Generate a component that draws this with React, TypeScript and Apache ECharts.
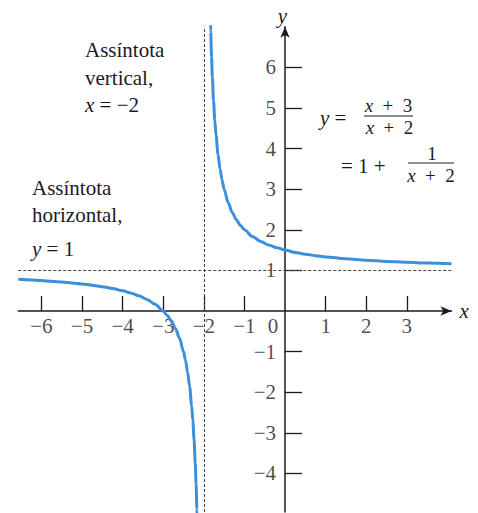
import { useEffect, useRef } from "react";
import * as echarts from "echarts";

// Axis extents and tick positions
const xRange = [-6.57, 4.1];
const yRange = [-4.95, 7];
const xTickValues = [-6, -5, -4, -3, -2, -1, 1, 2, 3];
const xLabelValues = [-6, -5, -4, -3, -2, -1, 0, 1, 2, 3];
const yTickValues = [-4, -3, -2, -1, 1, 2, 3, 4, 5, 6];

// Asymptotes of y = (x + 3)/(x + 2)
const horizontalAsymptote = 1;
const verticalAsymptote = -2;

// Right branch (x > -2)
const rightX = [-1.84, -1.83, -1.81, -1.79, -1.76, -1.73, -1.7, -1.65, -1.6, -1.55, -1.5, -1.4, -1.3, -1.2, -1.1, -1.0, -0.8, -0.6, -0.4, -0.2, 0, 0.25, 0.5, 0.75, 1, 1.5, 2, 2.5, 3, 3.5, 4.1];
const rightY = [7.25, 6.882, 6.263, 5.762, 5.167, 4.704, 4.333, 3.857, 3.5, 3.222, 3.0, 2.667, 2.429, 2.25, 2.111, 2.0, 1.833, 1.714, 1.625, 1.556, 1.5, 1.444, 1.4, 1.364, 1.333, 1.286, 1.25, 1.222, 1.2, 1.182, 1.164];

// Left branch (x < -2)
const leftX = [-6.57, -6.25, -6, -5.75, -5.5, -5.25, -5, -4.75, -4.5, -4.25, -4, -3.8, -3.6, -3.4, -3.2, -3, -2.9, -2.8, -2.7, -2.6, -2.5, -2.45, -2.4, -2.35, -2.3, -2.27, -2.24, -2.21, -2.19, -2.17, -2.16];
const leftY = [0.781, 0.765, 0.75, 0.733, 0.714, 0.692, 0.667, 0.636, 0.6, 0.556, 0.5, 0.444, 0.375, 0.286, 0.167, 0, -0.111, -0.25, -0.429, -0.667, -1.0, -1.222, -1.5, -1.857, -2.333, -2.704, -3.167, -3.762, -4.263, -4.882, -5.25];

const SERIF = '"Liberation Serif", "DejaVu Serif", serif';
const INK = "#1c1a1e";
const CURVE = "#3b8fdb";

const minus = (v: number) => (v < 0 ? "\u2212" + Math.abs(v) : String(v));

export default function App() {
  const ref = useRef<HTMLDivElement>(null);

  useEffect(() => {
    if (!ref.current) return;
    const chart = echarts.init(ref.current, undefined, { renderer: "svg" });

    const txt = (x: number, y: number, text: string, size = 21, extra: any = {}) => ({
      type: "text",
      x,
      y,
      silent: true,
      style: {
        text,
        fill: INK,
        fontFamily: SERIF,
        fontSize: size,
        textVerticalAlign: "middle",
        rich: {
          i: { fontStyle: "italic", fontFamily: SERIF, fontSize: size, fill: INK },
          n: { fontFamily: SERIF, fontSize: size, fill: INK },
        },
        ...extra,
      },
    });
    const bar = (x1: number, x2: number, y: number) => ({
      type: "line",
      silent: true,
      shape: { x1, y1: y, x2, y2: y },
      style: { stroke: INK, lineWidth: 1.2 },
    });

    const axisLineStyle = { color: INK, width: 1.5 };
    const labelFont = { fontFamily: SERIF, fontSize: 21, color: INK };
    const curveBase = {
      type: "line",
      showSymbol: false,
      smooth: 0.3,
      smoothMonotone: "x",
      clip: true,
      silent: true,
      lineStyle: { color: CURVE, width: 3 },
    };
    const sp = "\u2002";

    chart.setOption({
      animation: false,
      backgroundColor: "#ffffff",
      grid: {
        left: 18.26,
        right: 26.5,
        top: 26.8,
        bottom: 1,
        containLabel: false,
        outerBoundsMode: "none",
      },
      xAxis: {
        type: "value",
        min: xRange[0],
        max: xRange[1],
        name: "x",
        nameLocation: "end",
        nameGap: 8,
        nameTextStyle: { ...labelFont, fontStyle: "italic", verticalAlign: "middle" },
        axisLine: {
          onZero: true,
          symbol: ["none", "arrow"],
          symbolSize: [7, 11],
          lineStyle: axisLineStyle,
        },
        axisTick: { show: true, inside: true, length: 15, customValues: xTickValues, lineStyle: { color: INK, width: 1.3 } },
        axisLabel: { show: false },
        splitLine: { show: false },
      },
      yAxis: {
        type: "value",
        min: yRange[0],
        max: yRange[1],
        name: "y",
        nameLocation: "end",
        nameGap: 2,
        nameTextStyle: { ...labelFont, fontStyle: "italic", lineHeight: 18, padding: [0, 5, 0, 0] },
        axisLine: {
          onZero: true,
          symbol: ["none", "arrow"],
          symbolSize: [7, 11],
          lineStyle: axisLineStyle,
        },
        axisTick: { show: true, inside: true, length: 17, customValues: yTickValues, lineStyle: { color: INK, width: 1.3 } },
        axisLabel: { show: false },
        splitLine: { show: false },
      },
      series: [
        {
          ...curveBase,
          data: leftX.map((x, i) => [x, leftY[i]]),
          markLine: {
            silent: true,
            symbol: ["none", "none"],
            label: { show: false },
            lineStyle: { color: "#444", width: 1, type: [3, 2] },
            data: [{ yAxis: horizontalAsymptote }, { xAxis: verticalAsymptote }],
          },
        },
        {
          ...curveBase,
          data: rightX.map((x, i) => [x, rightY[i]]),
        },
        // tick labels along the x axis (y = 0)
        {
          type: "scatter",
          silent: true,
          symbolSize: 0,
          clip: false,
          data: xLabelValues.map((v) => ({
            value: [v, 0],
            label: v === 0 ? { offset: [-12, 0] } : undefined,
          })),
          label: {
            show: true,
            position: "bottom",
            distance: 4,
            ...labelFont,
            formatter: (p: any) => minus(p.value[0]),
          },
        },
        // tick labels along the y axis (x = 0)
        {
          type: "scatter",
          silent: true,
          symbolSize: 0,
          clip: false,
          data: yTickValues.map((v) => [0, v]),
          label: {
            show: true,
            position: "left",
            distance: 9,
            ...labelFont,
            formatter: (p: any) => minus(p.value[1]),
          },
        },
      ],
      graphic: [
        txt(85, 50, "Assíntota"),
        txt(85, 78, "vertical,"),
        txt(85, 105, "{i|x} = \u22122"),
        txt(32, 188, "Assíntota"),
        txt(32, 215, "horizontal,"),
        txt(32, 249, "{i|y} = 1"),
        // y = (x + 3)/(x + 2)
        txt(320, 118, "{i|y} ="),
        txt(388.5, 105.5, `{i|x}{n|${sp}+${sp}3}`, 19, { textAlign: "center" }),
        bar(364, 413, 116),
        txt(389.5, 127.5, `{i|x}{n|${sp}+${sp}2}`, 19, { textAlign: "center" }),
        // = 1 + 1/(x + 2)
        txt(341, 166, "= 1 +"),
        txt(432, 153, "{n|1}", 19, { textAlign: "center" }),
        bar(408, 454, 163),
        txt(431, 175.5, `{i|x}{n|${sp}+${sp}2}`, 19, { textAlign: "center" }),
      ],
    });

    return () => chart.dispose();
  }, []);

  return (
    <div
      ref={ref}
      style={{ position: "fixed", left: 0, top: 0, width: 478, height: 513, background: "#fff" }}
    />
  );
}
